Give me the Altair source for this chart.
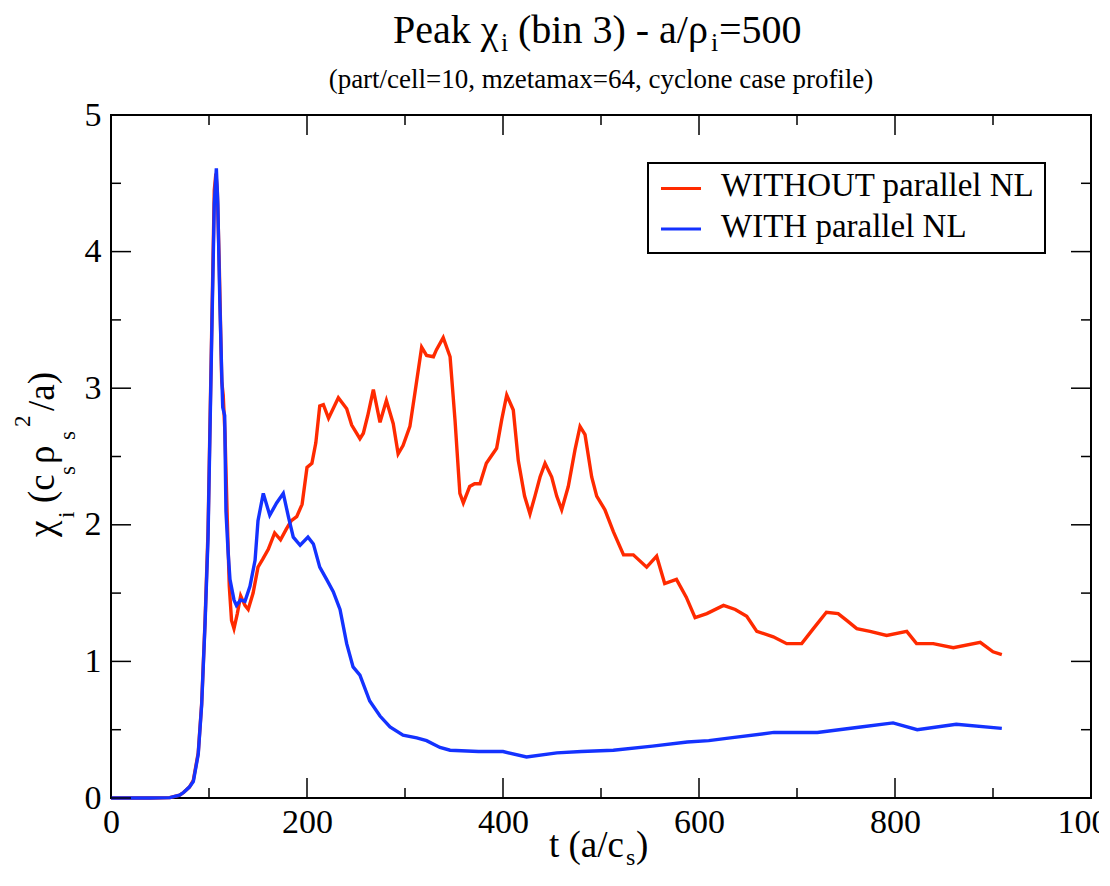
import altair as alt
import pandas as pd

FONT = "Liberation Serif"
RED = "#ff2a00"
BLUE = "#1432ff"

# peak chi_i, run WITHOUT parallel nonlinearity
t_without = [
    0, 40, 60, 70, 74, 80, 84, 89, 92.5, 96,
    99, 102.7, 105.4, 107, 108.5, 110.5, 113, 114.5, 116.3, 118.7,
    120.7, 123, 125.5, 128.9, 132.3, 136.7, 140, 145, 150, 155,
    160.5, 167, 173, 179, 184, 189.5, 195, 200, 205, 209,
    213, 216.7, 222, 232, 240.5, 245.6, 254, 257.5, 262, 267.7,
    274.5, 281, 288, 293, 298, 305, 310, 317, 322, 329,
    332, 339, 346, 351, 356, 359.5, 366, 371, 376.5, 383,
    393.5, 398.7, 403.8, 410.5, 415.6, 422, 427.5, 432.6, 437.8, 442.9,
    449.7, 454.8, 459.9, 466.6, 473.5, 478.6, 483.7, 490.5, 495.6, 504,
    512.6, 523, 533, 546.6, 556.8, 565, 577, 587, 596, 608,
    625, 637, 648.7, 659, 675.8, 689.5, 704.8, 716.7, 730, 742,
    750.7, 761, 774.5, 791.5, 812, 822, 839, 859.5, 887, 900,
    909,
]
chi_without = [
    0, 0, 0.003, 0.02, 0.04, 0.08, 0.13, 0.33, 0.69, 1.30,
    1.95, 3.40, 4.45, 4.57, 4.45, 3.89, 3.05, 2.95, 2.67, 2.03,
    1.55, 1.30, 1.24, 1.35, 1.48, 1.41, 1.38, 1.50, 1.69, 1.75,
    1.82, 1.94, 1.89, 1.97, 2.03, 2.06, 2.15, 2.42, 2.45, 2.60,
    2.87, 2.88, 2.78, 2.93, 2.85, 2.73, 2.63, 2.67, 2.80, 2.99,
    2.75, 2.91, 2.74, 2.52, 2.58, 2.72, 2.96, 3.30, 3.24, 3.23,
    3.28, 3.37, 3.23, 2.77, 2.23, 2.16, 2.28, 2.30, 2.30, 2.45,
    2.56, 2.77, 2.95, 2.84, 2.47, 2.21, 2.08, 2.21, 2.35, 2.45,
    2.35, 2.21, 2.11, 2.28, 2.55, 2.72, 2.66, 2.35, 2.21, 2.11,
    1.95, 1.78, 1.78, 1.69, 1.77, 1.57, 1.60, 1.47, 1.32, 1.35,
    1.41, 1.38, 1.33, 1.22, 1.18, 1.13, 1.13, 1.24, 1.36, 1.35,
    1.30, 1.24, 1.22, 1.19, 1.22, 1.13, 1.13, 1.10, 1.14, 1.07,
    1.05,
]

# peak chi_i, run WITH parallel nonlinearity
t_with = [
    0, 40, 60, 70, 74, 80, 84, 89, 92.5, 96,
    99, 102.7, 105.4, 107.5, 109, 111, 113, 114, 116, 117.3,
    119.5, 121.4, 125.5, 128, 132.3, 136.7, 141.8, 147, 150, 155.4,
    162, 169, 175.8, 181, 186, 193, 201, 206.5, 213, 220,
    226.8, 233.7, 240.5, 247, 254, 264, 274.5, 284.7, 298, 312,
    322, 335.7, 346, 375, 400, 424, 455, 480, 512.6, 552.5,
    588, 610, 632, 676.5, 720.8, 765, 798, 822.7, 862.5, 909,
]
chi_with = [
    0, 0, 0.003, 0.02, 0.04, 0.08, 0.12, 0.32, 0.68, 1.28,
    1.90, 3.35, 4.35, 4.61, 4.35, 3.65, 3.10, 2.86, 2.80, 2.10,
    1.80, 1.60, 1.45, 1.41, 1.45, 1.44, 1.55, 1.74, 2.03, 2.23,
    2.07, 2.16, 2.23, 2.06, 1.91, 1.85, 1.91, 1.86, 1.69, 1.60,
    1.51, 1.38, 1.13, 0.96, 0.90, 0.71, 0.60, 0.52, 0.46, 0.44,
    0.42, 0.37, 0.35, 0.34, 0.34, 0.30, 0.33, 0.34, 0.35, 0.38,
    0.41, 0.42, 0.44, 0.48, 0.48, 0.52, 0.55, 0.50, 0.54, 0.51,
]

x_major = [0, 200, 400, 600, 800, 1000]
x_minor = [100, 300, 500, 700, 900]
y_major = [0, 1, 2, 3, 4, 5]
y_minor = [0.5, 1.5, 2.5, 3.5, 4.5]

W, H = 980, 683

x_scale = alt.Scale(domain=[0, 1000], nice=False)
y_scale = alt.Scale(domain=[0, 5], nice=False)

axis_style = dict(
    title=None, ticks=False, tickSize=0, domain=False, grid=False,
    labelFont=FONT, labelFontSize=34, labelColor="black",
    labelOverlap=False, labelFlush=False, format="d",
)
x_axis = alt.Axis(values=x_major, labelPadding=7, **axis_style)
y_axis = alt.Axis(values=y_major, labelPadding=10, **axis_style)


def curve(t, chi, color):
    df = pd.DataFrame({"t": t, "chi": chi})
    return alt.Chart(df).mark_line(color=color, strokeWidth=3.4).encode(
        x=alt.X("t:Q", scale=x_scale, axis=x_axis),
        y=alt.Y("chi:Q", scale=y_scale, axis=y_axis),
    )


def x_ticks(values, length):
    """Inward ticks on the bottom and top frame."""
    base = alt.Chart(pd.DataFrame({"t": values})).mark_rule(color="black", strokeWidth=1.5)
    x = alt.X("t:Q", scale=x_scale, axis=x_axis)
    bottom = base.encode(x=x, y=alt.value(H), y2=alt.value(H - length))
    top = base.encode(x=x, y=alt.value(0), y2=alt.value(length))
    return [bottom, top]


def y_ticks(values, length):
    """Inward ticks on the left and right frame."""
    base = alt.Chart(pd.DataFrame({"chi": values})).mark_rule(color="black", strokeWidth=1.5)
    y = alt.Y("chi:Q", scale=y_scale, axis=y_axis)
    left = base.encode(y=y, x=alt.value(0), x2=alt.value(length))
    right = base.encode(y=y, x=alt.value(W), x2=alt.value(W - length))
    return [left, right]


def text(s, x, y, size, angle=None, align="left"):
    style = dict(font=FONT, fontSize=size, color="black", align=align, baseline="alphabetic")
    if angle is not None:
        style["angle"] = angle
    return alt.Chart(pd.DataFrame({"s": [s]})).mark_text(**style).encode(
        text="s:N", x=alt.value(x), y=alt.value(y)
    )


# title: Peak chi_i (bin 3) - a/rho_i=500
title = [
    text("Peak χ", 282, -72, 40),
    text("i", 390, -64, 26),
    text("(bin 3) - a/ρ", 407, -72, 40),
    text("i", 600, -64, 26),
    text("=500", 608, -72, 40),
    text("(part/cell=10, mzetamax=64, cyclone case profile)", 490, -27, 27, align="center"),
]

# x title: t (a/c_s)
x_title = [
    text("t (a/c", 438, 742, 37),
    text("s", 515, 750, 24),
    text(")", 525, 742, 37),
]

# y title: chi_i (c_s rho_s^2/a), rotated
y_title = [
    text("χ", -57, 422, 37, angle=270),
    text("i", -37, 403, 23, angle=270),
    text("(c", -57, 388, 37, angle=270),
    text("s", -36, 360, 23, angle=270),
    text("ρ", -57, 349, 37, angle=270),
    text("s", -36, 325, 23, angle=270),
    text("2", -81, 312, 23, angle=270),
    text("/a)", -57, 296, 37, angle=270),
]

one = pd.DataFrame({"a": [0]})
legend_box = alt.Chart(one).mark_rect(fill="white", stroke="black", strokeWidth=2).encode(
    x=alt.value(537), x2=alt.value(934), y=alt.value(48), y2=alt.value(138)
)
legend = [
    legend_box,
    alt.Chart(one).mark_rule(color=RED, strokeWidth=3).encode(
        x=alt.value(550), x2=alt.value(590), y=alt.value(73.5)
    ),
    alt.Chart(one).mark_rule(color=BLUE, strokeWidth=3).encode(
        x=alt.value(550), x2=alt.value(590), y=alt.value(114)
    ),
    text("WITHOUT parallel NL", 610, 81, 33),
    text("WITH parallel NL", 610, 122, 33),
]

layers = (
    [curve(t_without, chi_without, RED), curve(t_with, chi_with, BLUE)]
    + x_ticks(x_major, 20) + x_ticks(x_minor, 10)
    + y_ticks(y_major, 20) + y_ticks(y_minor, 10)
    + legend + title + x_title + y_title
)

# the whole svg must stay inside the 1110x886 window
chart = (
    alt.layer(*layers)
    .properties(
        width=W,
        height=H,
        autosize=alt.AutoSizeParams(type="none"),
        padding={"left": 103, "top": 107, "right": 8, "bottom": 72},
    )
    .configure(font=FONT)
    .configure_text(font=FONT)
    .configure_axis(labelFont=FONT)
    .configure_view(stroke="black", strokeWidth=2)
)

chart.save("out.html", embed_options={"renderer": "svg", "actions": False})
